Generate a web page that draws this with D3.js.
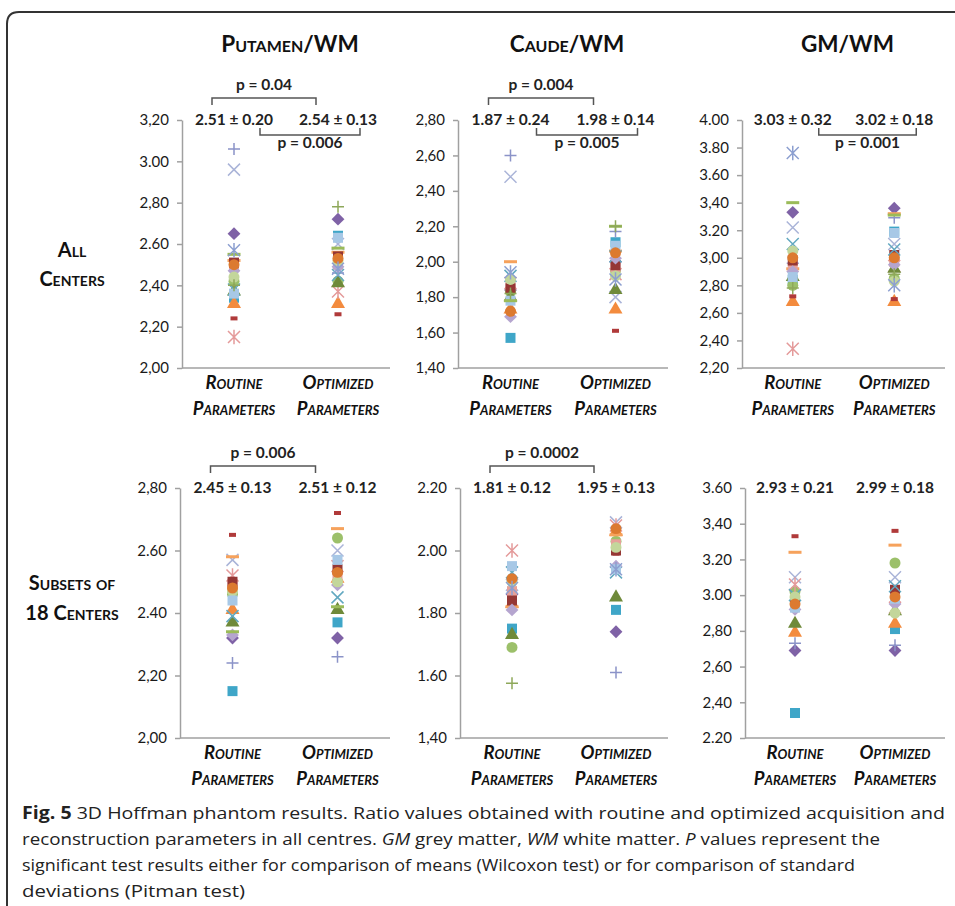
<!DOCTYPE html>
<html>
<head>
<meta charset="utf-8">
<script src="https://cdn.jsdelivr.net/npm/d3@7"></script>
<style>
  body { margin: 0; background: #fff; }
  svg { display: block; }
</style>
</head>
<body>
<div id="chart"></div>
<script>
const FONT = "Lato, 'Open Sans', sans-serif";
const WIDTH = 955, HEIGHT = 906;

// categories
const GROUPS = ["Routine", "Optimized"];
const PANEL_TITLES = ["Putamen/WM", "Caude/WM", "GM/WM"];
const ROW_LABELS = [["All", "Centers"], ["Subsets of", "18 Centers"]];

// one marker per centre (Excel style series)
const MARKER_SHAPES = ["diamond", "square", "triangle", "circle", "x", "plus", "asterisk", "dash",
  "longdash", "square", "square", "triangle", "x", "diamond", "circle", "square", "longdash",
  "circle", "plus", "asterisk"];
const MARKER_COLORS = ["#7f62a6", "#3fa6c8", "#f38b3e", "#9cc06a", "#aab4d8", "#8b93c8", "#e49a9a",
  "#b03a3a", "#f6a25c", "#e6a19a", "#953735", "#6f8a3a", "#62a8c0", "#b5a5cf", "#c3d69b",
  "#a7c8e6", "#9bbb59", "#dc7a30", "#8ea85a", "#8c9fd0"];

// y domains and tick labels (top to bottom, as printed)
const DOMAINS = [[2.0, 3.2], [1.4, 2.8], [2.2, 4.0], [2.0, 2.8], [1.4, 2.2], [2.2, 3.6]];
const TICK_LABELS = [
  ["3,20", "3.00", "2,80", "2.60", "2,40", "2,20", "2,00"],
  ["2,80", "2,60", "2,40", "2,20", "2,00", "1,80", "1,60", "1,40"],
  ["4.00", "3.80", "3.60", "3,40", "3.20", "3,00", "2,80", "2,60", "2,40", "2,20"],
  ["2,80", "2.60", "2.40", "2,20", "2,00"],
  ["2.20", "2.00", "1.80", "1.60", "1,40"],
  ["3.60", "3,40", "3.20", "3.00", "2,80", "2,60", "2,40", "2.20"]
];

// ratio values per centre (index = marker)
const ROUTINE_VALUES = [
  [2.65, 2.34, 2.31, 2.42, 2.96, 3.06, 2.15, 2.24, 2.52, 2.49, 2.51, 2.37, 2.38, 2.47, 2.44, 2.36, 2.55, 2.50, 2.40, 2.57],
  [1.84, 1.57, 1.73, 1.83, 2.48, 2.60, 1.88, 1.86, 2.00, 1.87, 1.85, 1.80, 1.92, 1.69, 1.90, 1.78, 1.78, 1.72, 1.82, 1.94],
  [3.33, 2.84, 2.68, 2.80, 3.22, 2.96, 2.34, 2.72, 2.92, 2.93, 2.98, 2.86, 3.10, 2.90, 3.05, 2.86, 3.40, 3.00, 2.78, 3.76],
  [2.32, 2.15, 2.41, 2.46, 2.57, 2.24, 2.52, 2.65, 2.58, 2.49, 2.50, 2.37, 2.39, 2.33, 2.47, 2.44, 2.34, 2.48, null, null],
  [1.86, 1.75, 1.83, 1.69, 1.89, null, 2.00, 1.85, 1.82, 1.87, 1.84, 1.73, 1.93, 1.81, 1.90, 1.95, null, 1.91, 1.575, 1.88],
  [2.69, 2.34, 2.79, 3.02, 3.10, 2.73, 3.06, 3.33, 3.24, 2.97, 2.96, 2.84, 3.00, 2.92, 2.99, 2.93, null, 2.95, null, null]
];
const OPTIMIZED_VALUES = [
  [2.72, 2.64, 2.31, 2.42, 2.60, 2.46, 2.37, 2.26, 2.56, 2.50, 2.54, 2.41, 2.45, 2.49, 2.52, 2.63, 2.58, 2.53, 2.78, 2.48],
  [2.00, 2.11, 1.73, 1.95, 1.80, 2.17, 1.93, 1.61, 2.06, 1.97, 1.98, 1.84, 2.03, 2.02, 1.92, 2.09, 2.20, 2.05, 2.20, 1.90],
  [3.36, 3.19, 2.68, 2.85, 3.10, 3.29, 2.94, 2.70, 3.32, 2.97, 3.02, 2.92, 3.06, 2.95, 2.83, 3.18, 3.31, 3.00, 2.88, 2.80],
  [2.32, 2.37, 2.51, 2.64, 2.60, 2.26, 2.55, 2.72, 2.67, 2.52, 2.54, 2.41, 2.45, 2.49, 2.50, 2.57, 2.42, 2.53, null, null],
  [1.74, 1.81, 2.06, 2.03, 2.09, 1.61, 2.08, 1.99, 2.05, 2.02, 2.00, 1.85, 1.93, 1.95, 2.01, 1.94, null, 2.07, null, 1.94],
  [2.69, 2.81, 2.84, 3.18, 3.10, 2.72, 2.93, 3.36, 3.28, 3.00, 3.03, 2.91, 3.05, 2.95, 2.90, 2.98, null, 2.99, null, null]
];

// mean ± sd and p values
const STAT_ROUTINE = ["2.51 ± 0.20", "1.87 ± 0.24", "3.03 ± 0.32", "2.45 ± 0.13", "1.81 ± 0.12", "2.93 ± 0.21"];
const STAT_OPTIMIZED = ["2.54 ± 0.13", "1.98 ± 0.14", "3.02 ± 0.18", "2.51 ± 0.12", "1.95 ± 0.13", "2.99 ± 0.18"];
const P_MEANS = ["p = 0.04", "p = 0.004", null, "p = 0.006", "p = 0.0002", null];
const P_SD = ["p = 0.006", "p = 0.005", "p = 0.001", null, null, null];

const CAPTION = [
  [["Fig. 5", "bold"], [" 3D Hoffman phantom results. Ratio values obtained with routine and optimized acquisition and", ""]],
  [["reconstruction parameters in all centres. ", ""], ["GM", "italic"], [" grey matter, ", ""], ["WM", "italic"], [" white matter. ", ""], ["P", "italic"], [" values represent the", ""]],
  [["significant test results either for comparison of means (Wilcoxon test) or for comparison of standard", ""]],
  [["deviations (Pitman test)", ""]]
];

// panel geometry
const PANELS = [
  { left: 182, right: 390, top: 120, bottom: 368 },
  { left: 458, right: 668, top: 120, bottom: 368 },
  { left: 742, right: 945, top: 120, bottom: 368 },
  { left: 180, right: 390, top: 488, bottom: 738 },
  { left: 460, right: 668, top: 488, bottom: 738 },
  { left: 745, right: 945, top: 488, bottom: 738 }
];

const svg = d3.select("#chart").append("svg")
  .attr("width", WIDTH)
  .attr("height", HEIGHT)
  .style("font-family", FONT);

// rounded frame
svg.append("path")
  .attr("d", "M7,906 L7,24 Q7,12 19,12 L955,12")
  .attr("fill", "none")
  .attr("stroke", "#333")
  .attr("stroke-width", 2);

function strokePath(shape, r) {
  if (shape === "x") return `M${-r},${-r}L${r},${r}M${-r},${r}L${r},${-r}`;
  if (shape === "plus") return `M${-r},0L${r},0M0,${-r}L0,${r}`;
  // asterisk
  return `M${-r},${-r}L${r},${r}M${-r},${r}L${r},${-r}M0,${-r * 1.2}L0,${r * 1.2}`;
}

const diamondType = d3.symbolDiamond2 || d3.symbolDiamond;

function drawMarker(g, shape, color, x, y) {
  if (shape === "diamond") {
    g.append("path").attr("d", d3.symbol(diamondType, 105)()).attr("transform", `translate(${x},${y})`).attr("fill", color);
  } else if (shape === "square") {
    g.append("path").attr("d", d3.symbol(d3.symbolSquare, 100)()).attr("transform", `translate(${x},${y})`).attr("fill", color);
  } else if (shape === "triangle") {
    g.append("path").attr("d", d3.symbol(d3.symbolTriangle, 85)()).attr("transform", `translate(${x},${y})`).attr("fill", color);
  } else if (shape === "circle") {
    g.append("path").attr("d", d3.symbol(d3.symbolCircle, 95)()).attr("transform", `translate(${x},${y})`).attr("fill", color);
  } else if (shape === "dash") {
    g.append("rect").attr("x", x - 3.5).attr("y", y - 2).attr("width", 7).attr("height", 4).attr("fill", color);
  } else if (shape === "longdash") {
    g.append("rect").attr("x", x - 6.5).attr("y", y - 1.5).attr("width", 13).attr("height", 3).attr("fill", color);
  } else {
    g.append("path").attr("d", strokePath(shape, 6)).attr("transform", `translate(${x},${y})`)
      .attr("fill", "none").attr("stroke", color).attr("stroke-width", 1.5);
  }
}

function bracket(g, x1, x2, y, legDir) {
  g.append("path")
    .attr("d", `M${x1},${y + legDir * 7}L${x1},${y}L${x2},${y}L${x2},${y + legDir * 7}`)
    .attr("fill", "none")
    .attr("stroke", "#555")
    .attr("stroke-width", 1.5);
}

PANELS.forEach((p, i) => {
  const g = svg.append("g");
  const y = d3.scaleLinear().domain(DOMAINS[i]).range([p.bottom, p.top]);
  const x = d3.scalePoint().domain(GROUPS).range([p.left, p.right]).padding(0.5);
  const labels = TICK_LABELS[i];
  const tickVals = labels.map((d, k) => DOMAINS[i][1] - k * 0.2);

  const yAxis = g.append("g")
    .attr("transform", `translate(${p.left},0)`)
    .call(d3.axisLeft(y).tickValues(tickVals).tickSize(5).tickSizeOuter(0).tickPadding(8)
      .tickFormat((d, k) => labels[k]));
  yAxis.select(".domain").attr("stroke", "#a0a0a0").attr("stroke-width", 1.5);
  yAxis.selectAll(".tick line").attr("stroke", "#a0a0a0").attr("stroke-width", 1.5);
  yAxis.selectAll(".tick text")
    .style("font-family", FONT)
    .style("font-size", "15px")
    .attr("fill", "#1a1a1a");

  g.append("line")
    .attr("x1", p.left).attr("x2", p.right)
    .attr("y1", p.bottom).attr("y2", p.bottom)
    .attr("stroke", "#a0a0a0").attr("stroke-width", 1.5);

  // category labels
  GROUPS.forEach(gr => {
    const t = g.append("text")
      .attr("text-anchor", "middle")
      .style("font-size", "18.5px")
      .style("font-weight", "bold")
      .style("font-style", "italic")
      .style("font-variant", "small-caps")
      .attr("fill", "#111");
    t.append("tspan").attr("x", x(gr)).attr("y", p.bottom + 21).text(gr);
    t.append("tspan").attr("x", x(gr)).attr("y", p.bottom + 47).text("Parameters");
  });

  // markers
  [ROUTINE_VALUES[i], OPTIMIZED_VALUES[i]].forEach((vals, gi) => {
    vals.forEach((v, k) => {
      if (v === null) return;
      drawMarker(g, MARKER_SHAPES[k], MARKER_COLORS[k], x(GROUPS[gi]), y(v));
    });
  });

  // annotations
  const xr = x(GROUPS[0]), xo = x(GROUPS[1]);
  [[STAT_ROUTINE[i], xr], [STAT_OPTIMIZED[i], xo]].forEach(([s, xx]) => {
    g.append("text").attr("x", xx).attr("y", p.top + 5)
      .attr("text-anchor", "middle")
      .style("font-size", "15.5px").style("font-weight", "bold")
      .attr("fill", "#222").text(s);
  });
  if (P_MEANS[i]) {
    bracket(g, xr - 22, xo - 22, p.top - 22, 1);
    g.append("text").attr("x", (xr + xo) / 2 - 22).attr("y", p.top - 30)
      .attr("text-anchor", "middle")
      .style("font-size", "15.5px").style("font-weight", "bold")
      .attr("fill", "#222").text(P_MEANS[i]);
  }
  if (P_SD[i]) {
    bracket(g, xr + 26, xo + 22, p.top + 15, -1);
    g.append("text").attr("x", (xr + xo) / 2 + 24).attr("y", p.top + 28)
      .attr("text-anchor", "middle")
      .style("font-size", "15.5px").style("font-weight", "bold")
      .attr("fill", "#222").text(P_SD[i]);
  }

  if (i < 3) {
    g.append("text")
      .attr("x", x.range()[0] + (p.right - p.left) / 2 + 4)
      .attr("y", 52)
      .attr("text-anchor", "middle")
      .style("font-size", "22.5px").style("font-weight", "bold")
      .style("font-variant", "small-caps")
      .attr("fill", "#111")
      .text(PANEL_TITLES[i]);
  }
});

// row labels
[[257, 286], [590, 620]].forEach((ys, r) => {
  ROW_LABELS[r].forEach((lbl, k) => {
    svg.append("text")
      .attr("x", 72).attr("y", ys[k])
      .attr("text-anchor", "middle")
      .style("font-size", "20px").style("font-weight", "bold")
      .style("font-variant", "small-caps")
      .attr("fill", "#111")
      .text(lbl);
  });
});

// caption
const CAPTION_LENGTHS = [923, 858, 833, 223];
CAPTION.forEach((line, li) => {
  const t = svg.append("text")
    .attr("x", 22).attr("y", 819 + li * 26)
    .attr("textLength", CAPTION_LENGTHS[li])
    .attr("lengthAdjust", "spacingAndGlyphs")
    .style("font-family", "'Open Sans', sans-serif")
    .style("font-size", "17px")
    .attr("fill", "#222");
  line.forEach(([s, st]) => {
    const sp = t.append("tspan").text(s);
    if (st === "bold") sp.style("font-weight", "bold");
    if (st === "italic") sp.style("font-style", "italic");
  });
});
</script>
</body>
</html>
